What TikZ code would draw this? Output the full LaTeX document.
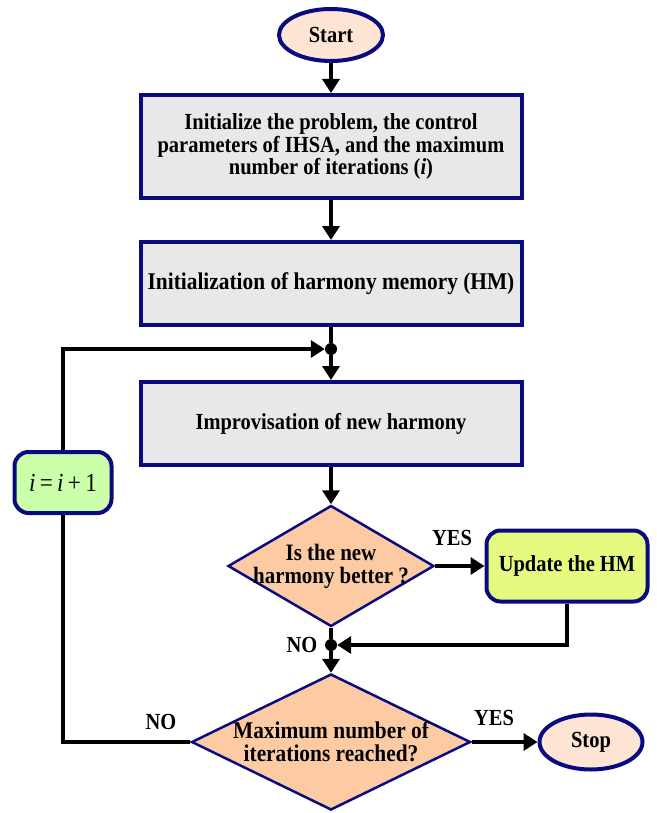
\documentclass[tikz,border=0pt]{standalone}
\usepackage{fontspec}
\setmainfont[FakeStretch=0.89]{Liberation Serif}
\usetikzlibrary{arrows.meta,shapes.geometric}

\definecolor{navyline}{HTML}{0A0A80}
\definecolor{boxgray}{HTML}{E8E8E8}
\definecolor{peach}{HTML}{FCCBA4}
\definecolor{lightpeach}{HTML}{FDE4D5}
\definecolor{limegreen}{HTML}{E4FB80}
\definecolor{palegreen}{HTML}{CCFFAA}

\begin{document}
\begin{tikzpicture}[x=1pt,y=-1pt,
    txt/.style={font=\bfseries\fontsize{23}{22.5}\selectfont},
    terminal/.style={ellipse,draw=navyline,line width=4pt,fill=lightpeach,
        inner sep=0pt,txt},
    process/.style={rectangle,draw=navyline,line width=4pt,fill=boxgray,
        minimum width=381pt,align=center,txt},
    decision/.style={diamond,draw=navyline,line width=2.5pt,fill=peach,
        inner sep=0pt},
    roundbox/.style={rectangle,rounded corners=14pt,draw=navyline,
        line width=4pt,align=center},
    flow/.style={line width=4pt,-{Triangle[width=17pt,length=14pt]}},
    link/.style={line width=4pt},
    junction/.style={circle,fill=black,inner sep=0pt,minimum size=12pt}
]

    \useasboundingbox (0,0) rectangle (656,813);

    % Terminals
    \node[terminal,minimum width=104pt,minimum height=52pt] (start) at (331,35) {Start};
    \node[terminal,minimum width=103pt,minimum height=55pt] (stop) at (591,742) {Stop};

    % Process boxes
    \node[process,minimum height=103pt] (init) at (331,146.5)
        {Initialize the problem, the control\\parameters of IHSA, and the maximum\\number of iterations (\textit{i})};
    \node[process,minimum height=83pt,font=\bfseries\fontsize{24}{24}\selectfont] (hm) at (331,283.5)
        {Initialization of harmony memory (HM)};
    \node[process,minimum height=83pt] (impr) at (331,423.5)
        {Improvisation of new harmony};

    % Decisions
    \node[decision,minimum width=206pt,minimum height=121pt,
        label={[txt,font=\bfseries\fontsize{23.5}{23}\selectfont,align=center,name=better]center:{Is the new\\harmony better ?}}]
        (d1) at (331,566) {};
    \node[decision,minimum width=279pt,minimum height=136pt,
        label={[txt,font=\bfseries\fontsize{24}{23}\selectfont,align=center,name=reached]center:{Maximum number of\\iterations reached?}}]
        (d2) at (331,742) {};

    % Side boxes
    \node[roundbox,fill=limegreen,minimum width=161pt,minimum height=71pt,txt] (upd) at (567,566)
        {Update the HM};
    \node[roundbox,fill=palegreen,minimum width=97pt,minimum height=61pt] (inc) at (63,482.5)
        {\fontsize{26}{28}\selectfont\textit{i}\,=\,\textit{i}\,+\,1};

    % Junctions
    \node[junction] (j1) at (331,349) {};
    \node[junction] (j2) at (331,645) {};

    % Main flow
    \draw[flow] (start) -- (init);
    \draw[flow] (init) -- (hm);
    \draw[link] (hm) -- (j1);
    \draw[flow] (j1) -- (impr);
    \draw[flow] (impr) -- (d1);
    \draw[link] (d1.south) -- (j2);
    \draw[flow] (j2) -- (d2.north);

    % Branches
    \draw[flow] (d1.east) -- (upd.west);
    \draw[flow] (upd.south) |- (j2);
    \draw[flow] (d2.east) -- (stop.west);
    \draw[link] (d2.west) -| (inc.south);
    \draw[flow] (inc.north) |- (j1);

    % Branch labels
    \node[txt] (yes1) at (452,538) {YES};
    \node[txt] (no1) at (302,645) {NO};
    \node[txt] (yes2) at (494,718) {YES};
    \node[txt] (no2) at (161,722) {NO};

\end{tikzpicture}
\end{document}
